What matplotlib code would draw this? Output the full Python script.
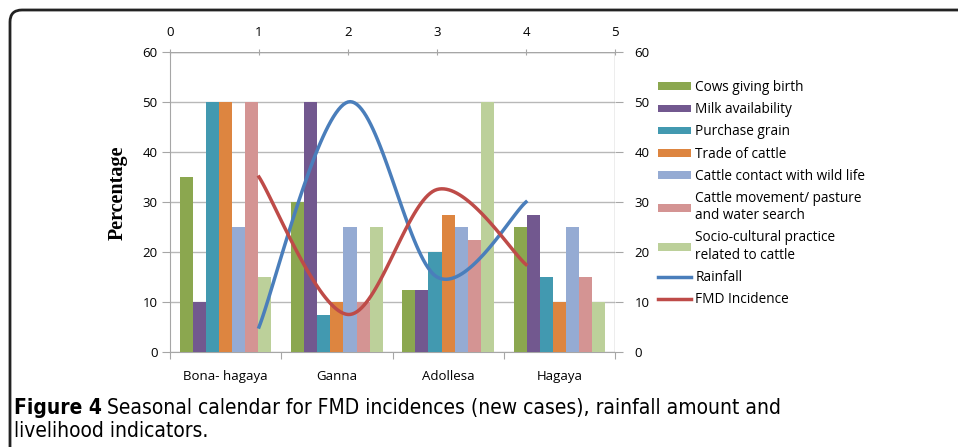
import numpy as np
import matplotlib
matplotlib.use("Agg")
import matplotlib.pyplot as plt
from matplotlib.patches import FancyBboxPatch
from matplotlib.transforms import IdentityTransform

# data
seasons = ["Bona- hagaya", "Ganna", "Adollesa", "Hagaya"]
bar_names = ["Cows giving birth", "Milk availability", "Purchase grain", "Trade of cattle",
             "Cattle contact with wild life", "Cattle movement/ pasture\nand water search",
             "Socio-cultural practice\nrelated to cattle"]
cows_birth = [35, 30, 12.5, 25]
milk = [10, 50, 12.5, 27.5]
grain = [50, 7.5, 20, 15]
trade = [50, 10, 27.5, 10]
wildlife = [25, 25, 25, 25]
movement = [50, 10, 22.5, 15]
socio = [15, 25, 50, 10]
bar_colors = ["#8ba74f", "#72588f", "#4299b0", "#dd8540", "#95abd3", "#d49493", "#bcd09a"]

line_x = [1, 2, 3, 4]
rainfall = [5, 50, 15, 30]
fmd = [35, 7.5, 32.5, 17.5]

plt.rcParams['font.family'] = ['Open Sans', 'DejaVu Sans']

fig = plt.figure(figsize=(9.58, 4.47), dpi=100)
W, H = 958, 447

# frame with rounded corner
frame = FancyBboxPatch((10, -60), 1000, 447 - 10 + 60, boxstyle="round,pad=0,rounding_size=12",
                       transform=IdentityTransform(), fill=False, edgecolor="#222222", lw=2)
fig.patches.append(frame)

pos = [170 / W, (H - 352) / H, 445 / W, 300 / H]
ax = fig.add_axes(pos)
grid_c = "#b8b8b8"
axis_c = "#a6a6a6"

series = [cows_birth, milk, grain, trade, wildlife, movement, socio]
w = 1 / 8.5
x = np.arange(len(seasons))
handles = []
for j, vals in enumerate(series):
    b = ax.bar(x + (j - 3) * w, vals, width=w, color=bar_colors[j], label=bar_names[j], zorder=3)
    handles.append(b)

ax.set_xlim(-0.5, 3.5)
ax.set_ylim(0, 60)
ax.set_yticks(range(0, 61, 10))
ax.set_xticks(np.arange(-0.5, 3.6, 1), minor=False)
ax.set_xticklabels([])
ax.set_xticks(x, minor=True)
ax.set_xticklabels(seasons, minor=True)
ax.tick_params(axis="x", which="minor", length=0, pad=13, labelsize=9.5)
ax.tick_params(axis="x", which="major", length=5, color=axis_c, direction="out")
ax.tick_params(axis="y", length=6, color=axis_c, labelsize=9.5, pad=3)
ax.yaxis.grid(True, color=grid_c, lw=1, zorder=0)
for s in ["top", "right"]:
    ax.spines[s].set_visible(False)
for s in ["left", "bottom"]:
    ax.spines[s].set_color(axis_c)
ax.set_ylabel("Percentage", family="Liberation Serif", fontweight="bold", fontsize=14.5)
ax.yaxis.set_label_coords(-0.094, 0.53)

# secondary axes for the lines
ax2 = fig.add_axes(pos, frameon=False)
ax2.patch.set_visible(False)
ax2.set_xlim(0, 5)
ax2.set_ylim(0, 60)
ax2.xaxis.tick_top()
ax2.yaxis.tick_right()
ax2.set_xticks(range(6))
ax2.set_yticks(range(0, 61, 10))
ax2.tick_params(axis="x", length=4, direction="inout", color=axis_c, labelsize=9.5, pad=7)
ax2.tick_params(axis="y", length=6, color=axis_c, labelsize=9.5, pad=8)
ax2.axvline(5, color=axis_c, lw=1)
ax2.axhline(60, color=axis_c, lw=1)


def excel_smooth(xs, ys, sx=89.0, sy=5.0, n=40):
    # Excel-like smoothed line (Bezier, tension 1/6) computed in screen-ish units
    P = np.column_stack([np.array(xs) * sx, np.array(ys) * sy])
    out = []
    for i in range(len(P) - 1):
        p0 = P[i - 1] if i > 0 else P[i]
        p1, p2 = P[i], P[i + 1]
        p3 = P[i + 2] if i + 2 < len(P) else P[i + 1]
        c1 = p1 + (p2 - p0) / 6
        c2 = p2 - (p3 - p1) / 6
        t = np.linspace(0, 1, n)[:, None]
        seg = (1 - t) ** 3 * p1 + 3 * (1 - t) ** 2 * t * c1 + 3 * (1 - t) * t ** 2 * c2 + t ** 3 * p2
        out.append(seg)
    pts = np.vstack(out)
    return pts[:, 0] / sx, pts[:, 1] / sy


rx, ry = excel_smooth(line_x, rainfall)
fx, fy = excel_smooth(line_x, fmd)
l1, = ax2.plot(rx, ry, color="#4a7ebb", lw=2.5, label="Rainfall", zorder=4)
l2, = ax2.plot(fx, fy, color="#be4b48", lw=2.5, label="FMD Incidence", zorder=4)
handles += [l1, l2]

fig.legend(handles=handles, loc="upper left", bbox_to_anchor=(658 / W, (H - 80) / H),
           frameon=False, fontsize=9.8, handlelength=2.4, handleheight=0.5, handletextpad=0.35,
           labelspacing=0.53, borderpad=0, borderaxespad=0)

# caption
cap_font = "DejaVu Sans"
t1 = fig.text(14 / W, (H - 414) / H, "Figure 4", fontsize=15, fontweight="bold", family=cap_font,
              fontstretch="condensed", va="baseline")
fig.canvas.draw()
bb = t1.get_window_extent()
fig.text((bb.x1 + 5) / W, (H - 414) / H, "Seasonal calendar for FMD incidences (new cases), rainfall amount and",
         fontsize=15, family=cap_font, fontstretch="condensed", va="baseline")
fig.text(14 / W, (H - 437) / H, "livelihood indicators.", fontsize=15, family=cap_font,
         fontstretch="condensed", va="baseline")

fig.savefig("out.png", dpi=100)
